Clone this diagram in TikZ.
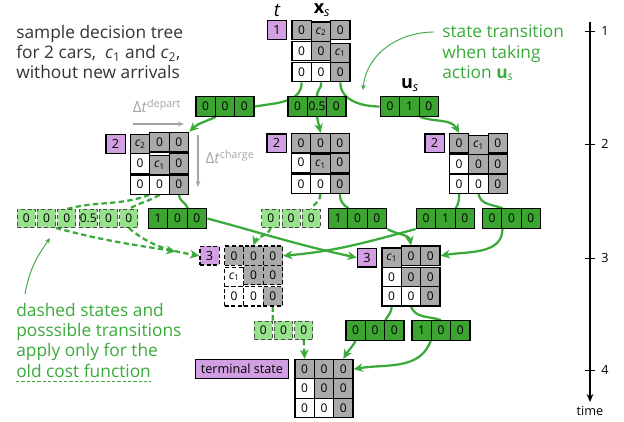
\documentclass[tikz,border=0pt]{standalone}
\usepackage{fontspec}
\setmainfont{Open Sans}
\usetikzlibrary{arrows.meta, matrix, positioning, backgrounds}

\definecolor{trgreen}{RGB}{58,170,58}
\definecolor{actgreen}{RGB}{60,165,50}
\definecolor{dgreen}{RGB}{152,226,142}
\definecolor{stpurple}{RGB}{210,160,226}
\definecolor{cellgray}{RGB}{170,170,170}
\definecolor{txtgray}{RGB}{51,51,51}
\definecolor{dtgray}{RGB}{165,165,165}

\newcommand{\cone}{\textit{c}\textsubscript{1}}
\newcommand{\ctwo}{\textit{c}\textsubscript{2}}

\begin{document}
\begin{tikzpicture}[x=0.75pt,y=-0.75pt]
	\tikzstyle{cell}=[draw, line width=0.95pt, fill=white, minimum size=14.5pt, inner sep=0pt, font=\fontsize{9}{10}\selectfont]
	\tikzstyle{gc}=[fill=cellgray]
	\tikzstyle{state}=[matrix of nodes, inner sep=0pt, nodes={cell}, column sep=-0.95pt, row sep=-0.95pt]
	\tikzstyle{dstate}=[matrix of nodes, inner sep=0pt, nodes={cell, densely dashed}, column sep=-0.95pt, row sep=-0.95pt]
	\tikzstyle{act}=[matrix of nodes, inner sep=0pt, nodes={cell, fill=actgreen}, column sep=-0.95pt]
	\tikzstyle{dact}=[matrix of nodes, inner sep=0pt, nodes={cell, fill=dgreen, draw=black!70, line width=0.6pt, densely dashed, minimum size=13.6pt}, column sep=1pt]
	\tikzstyle{lbl}=[draw, line width=0.95pt, fill=stpurple, minimum width=14.5pt, minimum height=14pt, inner sep=2pt, font=\fontsize{9.5}{10}\selectfont]
	\tikzstyle{trans}=[trgreen, line width=1.7pt]
	\tikzstyle{dtrans}=[trans, dash pattern=on 4pt off 2.5pt]
	\tikzstyle{arr}=[-{Stealth[length=7pt,width=6.5pt]}]
	\tikzstyle{note}=[trgreen, line width=0.7pt, -{Stealth[length=4pt,width=3.5pt]}]
	\tikzstyle{dtarr}=[dtgray, line width=0.8pt, -{Stealth[length=4.5pt,width=3.5pt]}]
	\tikzstyle{bigtext}=[anchor=north west, align=left, inner sep=0pt, font=\fontsize{13}{15.2}\selectfont]
	\useasboundingbox (0,0) rectangle (624,421);

	% t = 1
	\matrix (s1) at (321,51) [state] {
		|[gc]| 0 & |[gc]| \ctwo & |[gc]| 0 \\
		0 & |[gc]| 0 & |[gc]| \cone \\
		0 & 0 & |[gc]| 0 \\
	};
	\node[lbl, left=3pt of s1-1-1] (l1) {1};
	\node[font=\fontsize{14}{15}\selectfont\itshape] (tlab) at (277,10) {t};
	\node[font=\fontsize{13.5}{15}\selectfont] (xlab) at (322,10) {\textbf{x}\textsubscript{\textit{s}}};
	\node[font=\fontsize{13.5}{15}\selectfont] (ulab) at (410,85) {\textbf{u}\textsubscript{\textit{s}}};
	\matrix (a1) at (225,106.5) [act] {0 & 0 & 0\\};
	\matrix (a2) at (317,106.5) [act] {0 & 0.5 & 0\\};
	\matrix (a3) at (409.5,106.5) [act] {0 & 1 & 0\\};

	% t = 2
	\matrix (s2a) at (159.5,163.5) [state] {
		|[gc]| \ctwo & |[gc]| 0 & |[gc]| 0 \\
		0 & |[gc]| \cone & |[gc]| 0 \\
		0 & 0 & |[gc]| 0 \\
	};
	\node[lbl, left=3pt of s2a-1-1] (l2a) {2};
	\matrix (s2b) at (320.5,163.5) [state] {
		|[gc]| 0 & |[gc]| 0 & |[gc]| 0 \\
		0 & |[gc]| \cone & |[gc]| 0 \\
		0 & 0 & |[gc]| 0 \\
	};
	\node[lbl, left=3pt of s2b-1-1] (l2b) {2};
	\matrix (s2c) at (478.5,163.5) [state] {
		|[gc]| 0 & |[gc]| \cone & |[gc]| 0 \\
		0 & |[gc]| 0 & |[gc]| 0 \\
		0 & 0 & |[gc]| 0 \\
	};
	\node[lbl, left=3pt of s2c-1-1] (l2c) {2};
	\matrix (d1) at (46.5,218.5) [dact] {0 & 0 & 0\\};
	\matrix (d2) at (108.5,218.5) [dact] {0.5 & 0 & 0\\};
	\matrix (a4) at (177.5,218.5) [act] {1 & 0 & 0\\};
	\matrix (d3) at (291,218.5) [dact] {0 & 0 & 0\\};
	\matrix (a5) at (357.5,218.5) [act] {1 & 0 & 0\\};
	\matrix (a6) at (445.5,218.5) [act] {0 & 1 & 0\\};
	\matrix (a7) at (511.5,218.5) [act] {0 & 0 & 0\\};

	% t = 3
	\matrix (s3d) at (253.5,276) [dstate] {
		|[gc]| 0 & |[gc]| 0 & |[gc]| 0 \\
		\cone & |[gc]| 0 & |[gc]| 0 \\
		0 & 0 & |[gc]| 0 \\
	};
	\node[lbl, densely dashed, left=3pt of s3d-1-1] (l3d) {3};
	\matrix (s3) at (411,276) [state] {
		|[gc]| \cone & |[gc]| 0 & |[gc]| 0 \\
		0 & |[gc]| 0 & |[gc]| 0 \\
		0 & 0 & |[gc]| 0 \\
	};
	\node[lbl, left=3pt of s3-1-1] (l3) {3};
	\matrix (d4) at (283.5,330.5) [dact] {0 & 0 & 0\\};
	\matrix (a8) at (375,330.5) [act] {0 & 0 & 0\\};
	\matrix (a9) at (441,330.5) [act] {1 & 0 & 0\\};

	% t = 4
	\matrix (s4) at (324,388.5) [state] {
		|[gc]| 0 & |[gc]| 0 & |[gc]| 0 \\
		0 & |[gc]| 0 & |[gc]| 0 \\
		0 & 0 & |[gc]| 0 \\
	};
	\node[lbl, inner xsep=4pt, left=4pt of s4-1-1] (l4) {terminal state};

	\begin{scope}[on background layer]
		\draw[trans] (s1-3-1.south) to[out=-90,in=10] (a1.east);
		\draw[trans,arr] (a1-1-1.south east) to[out=-155,in=45] (s2a.north east);
		\draw[trans] (s1-3-2.south) to[out=-75,in=100] (a2-1-2.north);
		\draw[trans,arr] (a2-1-2.south) -- (s2b-1-2.north);
		\draw[trans] (s1-3-3.south) to[out=-90,in=180] (a3.west);
		\draw[trans,arr] (a3-1-2.south east) to[out=-20,in=120] (s2c-1-1.north);

		\draw[dtrans] (s2a-3-2.south west) to[out=-160,in=15] (d1-1-3.north);
		\draw[dtrans] (s2a-3-2.south) to[out=-150,in=30] (d2-1-3.north);
		\draw[dtrans,arr,shorten >=18pt] (d1-1-2.south east) to[out=-15,in=170] (l3d.west);
		\draw[dtrans,arr] (d2-1-3.south) to[out=-40,in=170] (l3d.west);
		\draw[trans] (s2a-3-3.south) to[out=-85,in=110] (a4-1-2.north east);
		\draw[trans,arr] (a4.east) to[out=-15,in=168] (l3.west);
		\draw[dtrans] (s2b-3-2.south) to[out=-90,in=60] (d3-1-3.north);
		\draw[dtrans,arr] (d3-1-1.south) to[out=-110,in=70] (s3d-1-2.north);
		\draw[trans] (s2b-3-3.south) to[out=-90,in=150] (a5-1-1.north east);
		\draw[trans,arr] (a5.south east) to[out=-30,in=100] (s3-1-2.north);
		\draw[trans] (s2c-3-1.south) to[out=-90,in=60] (a6-1-2.north east);
		\draw[trans,arr] (a6.south west) to[out=195,in=5] (s3d-1-3.east);
		\draw[trans] (s2c-3-2.south) to[out=-80,in=160] (a7-1-1.north east);
		\draw[trans,arr] (a7-1-1.south east) to[out=-90,in=10] (s3-1-3.east);

		\draw[dtrans] (s3d-3-3.south) -- (d4-1-1.north east);
		\draw[dtrans,arr] (d4-1-3.south) -- (s4-1-1.north);
		\draw[trans] (s3-3-1.south) to[out=-90,in=60] (a8-1-2.north east);
		\draw[trans,arr] (a8-1-1.south) to[out=-120,in=60] (s4-1-3.north);
		\draw[trans] (s3-3-2.south) to[out=-70,in=160] (a9-1-2.north);
		\draw[trans,arr] (a9-1-2.south west) to[out=-110,in=10] (s4-1-3.east);
	\end{scope}

	% delta t
	\node[text=dtgray, font=\fontsize{11.5}{14}\selectfont] (dtdep) at (157,106) {Δ\textit{t}\textsuperscript{depart}};
	\coordinate (dep1) at (133,124);
	\coordinate (dep2) at (184,124);
	\draw[dtarr] (dep1) -- (dep2);
	\node[anchor=west, text=dtgray, font=\fontsize{11.5}{14}\selectfont] (dtchg) at (201,157) {Δ\textit{t}\textsuperscript{charge}};
	\coordinate (chg1) at (198,135);
	\coordinate (chg2) at (198,187);
	\draw[dtarr] (chg1) -- (chg2);

	% texts
	\node[bigtext, text=txtgray] (intro) at (16,25) {sample decision tree\\for 2 cars,\ \ \cone\ and \ctwo,\\without new arrivals};
	\node[bigtext, text=trgreen] (trtext) at (442,25) {state transition\\when taking\\action \textbf{u}\textsubscript{\textit{s}}};
	\coordinate (trfrom) at (434,32);
	\coordinate (trto) at (363,90);
	\draw[note] (trfrom) to[out=180,in=85] (trto);
	\node[bigtext, text=trgreen] (oldnote) at (16,303) {dashed states and\\posssible transitions\\apply only for the};
	\node[bigtext, text=trgreen, anchor=base west] (oldcost) at (16,377) {old cost function};
	\draw[trgreen, line width=0.7pt, dash pattern=on 2.5pt off 1.5pt] ([yshift=-3pt]oldcost.base west) -- ([yshift=-3pt]oldcost.base east);
	\coordinate (notefrom) at (25,294);
	\coordinate (noteto) at (50,238);
	\draw[note] (notefrom) to[out=80,in=-125] (noteto);

	% time axis
	\coordinate (ttop) at (590,22);
	\coordinate (tend) at (590,402);
	\draw[line width=0.9pt, -{Stealth[length=6pt,width=5pt]}] (ttop) -- (tend);
	\foreach \k/\ty in {1/31,2/144,3/258,4/370}{
		\draw[line width=0.7pt] (585,\ty) -- (595,\ty) node[right=1pt, font=\fontsize{9.5}{10}\selectfont] (tk\k) {\k};
	}
	\node[font=\fontsize{9.5}{10}\selectfont] (tlabel) at (590,411) {time};
\end{tikzpicture}
\end{document}
